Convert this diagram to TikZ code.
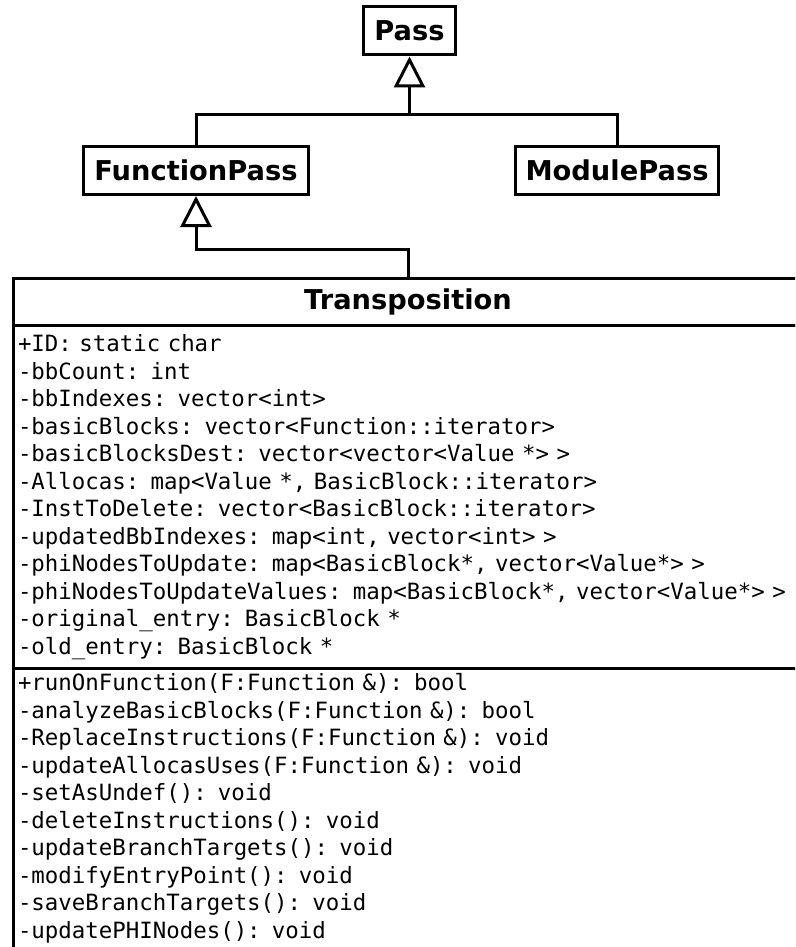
\documentclass[tikz,border=0pt]{standalone}
\usepackage{fontspec}
\setsansfont{DejaVu Sans}
\setmonofont{DejaVu Sans Mono}
\usetikzlibrary{arrows.meta,positioning}

% fixed-width spaces in the member lists
\newcommand{\memberfont}{\ttfamily\fontsize{22.4}{27.5}\selectfont
    \fontdimen2\font=0.602em \fontdimen3\font=0pt \fontdimen4\font=0pt}

\tikzset{
    classname/.style = {draw, line width = 3pt, inner xsep = 10.5pt, minimum height = 48pt,
        font = \sffamily\bfseries\fontsize{27.3}{30}\selectfont},
    members/.style = {anchor = north west, line width = 3pt, inner xsep = 5pt, outer sep = 0pt,
        text width = 800pt, align = left, font = \memberfont},
    inherit/.style = {line width = 3pt, -{Triangle[open, length = 31pt, width = 31pt]}}
}

\begin{document}
\begin{tikzpicture}[x = 1pt, y = 1pt]
    \useasboundingbox (0,0) rectangle (795,-947);
    \clip (0,0) rectangle (795,-947);
        \node[classname] (pass) at (409.5,-31) {Pass};
        \node[classname] (functionpass) at (196,-170.5) {FunctionPass};
        \node[classname] (modulepass) at (617,-170.5) {ModulePass};
        \node[classname, outer sep = 0pt, minimum width = 790pt, minimum height = 47pt] (transposition) at (408,-301.5) {Transposition};
        \node[members, draw, inner ysep = 9.5pt] (attributes) at (transposition.south west) {%
            +ID: static char\\
            -bbCount: int\\
            -bbIndexes: vector<int>\\
            -basicBlocks: vector<Function::iterator>\\
            -basicBlocksDest: vector<vector<Value *> >\\
            -Allocas: map<Value *, BasicBlock::iterator>\\
            -InstToDelete: vector<BasicBlock::iterator>\\
            -updatedBbIndexes: map<int, vector<int> >\\
            -phiNodesToUpdate: map<BasicBlock*, vector<Value*> >\\
            -phiNodesToUpdateValues: map<BasicBlock*, vector<Value*> >\\
            -original\_entry: BasicBlock *\\
            -old\_entry: BasicBlock *};
        \node[members, inner ysep = 5pt] (methods) at (attributes.south west) {%
            +runOnFunction(F:Function \&): bool\\
            -analyzeBasicBlocks(F:Function \&): bool\\
            -ReplaceInstructions(F:Function \&): void\\
            -updateAllocasUses(F:Function \&): void\\
            -setAsUndef(): void\\
            -deleteInstructions(): void\\
            -updateBranchTargets(): void\\
            -modifyEntryPoint(): void\\
            -saveBranchTargets(): void\\
            -updatePHINodes(): void};
        \coordinate (methodsend) at (13,-960);
        \draw[line width = 3pt] (attributes.south west) -- (methodsend);
        % generalizations
        \coordinate (fork) at (409.5,-115);
        \coordinate (elbow) at (196,-249);
        \draw[line width = 3pt] (functionpass.north) |- (fork) -| (modulepass.north);
        \draw[inherit] (fork) -- (pass.south);
        \draw[inherit] (transposition.north) |- (elbow) -- (functionpass.south);
\end{tikzpicture}
\end{document}
